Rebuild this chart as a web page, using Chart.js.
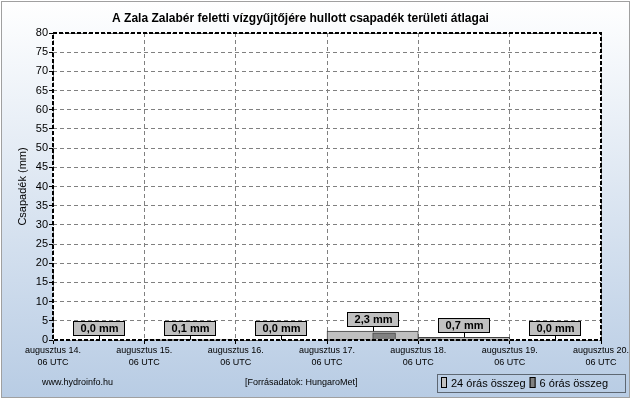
<!DOCTYPE html>
<html>
<head>
<meta charset="utf-8">
<script src="https://cdn.jsdelivr.net/npm/chart.js@4.4.1/dist/chart.umd.min.js"></script>
<style>
  html, body { margin: 0; padding: 0; background: #fff; }
  #wrap { width: 633px; height: 401px; }
</style>
</head>
<body>
<div id="wrap"><canvas id="csapadekChart"></canvas></div>
<script>
// boundary ticks (06 UTC each day)
const tickDays = ['augusztus 14.', 'augusztus 15.', 'augusztus 16.', 'augusztus 17.', 'augusztus 18.', 'augusztus 19.', 'augusztus 20.'];
const dayLabels = ['08.14', '08.15', '08.16', '08.17', '08.18', '08.19'];
const dayTotals = [0.0, 0.1, 0.0, 2.3, 0.7, 0.0];
const slotLabels = ['14/06', '14/12', '14/18', '15/00', '15/06', '15/12', '15/18', '16/00',
                    '16/06', '16/12', '16/18', '17/00', '17/06', '17/12', '17/18', '18/00',
                    '18/06', '18/12', '18/18', '19/00', '19/06', '19/12', '19/18', '20/00'];
const sixHourTotals = [0.0, 0.0, 0.0, 0.0,
                       0.0, 0.1, 0.0, 0.0,
                       0.0, 0.0, 0.0, 0.0,
                       0.1, 0.2, 1.9, 0.1,
                       0.3, 0.2, 0.1, 0.1,
                       0.0, 0.0, 0.0, 0.0];

const FONT = "'Liberation Sans', Arial, sans-serif";

function fmt(v) {
    return v.toFixed(1).replace('.', ',') + ' mm';
}

const frame = {
    id: 'frame',
    beforeDraw(chart) {
        const {ctx, width, height, chartArea: a} = chart;
        ctx.save();
        ctx.fillStyle = '#fff';
        ctx.fillRect(0, 0, width, height);
        const g = ctx.createLinearGradient(0, 0, 0, 398);
        g.addColorStop(0, '#ffffff');
        g.addColorStop(1, '#b8cce4');
        ctx.fillStyle = g;
        ctx.fillRect(1, 1, 629, 397);
        ctx.strokeStyle = '#a0a0a0';
        ctx.lineWidth = 1;
        ctx.strokeRect(1.5, 1.5, 628, 396);
        ctx.fillStyle = '#fff';
        ctx.fillRect(a.left, a.top, a.right - a.left, a.bottom - a.top);
        ctx.restore();
    },
    afterDatasetsDraw(chart) {
        const {ctx, chartArea: a} = chart;
        const xd = chart.scales.xd, y = chart.scales.y;
        ctx.save();
        // plot border
        ctx.strokeStyle = '#000';
        ctx.lineWidth = 2;
        ctx.setLineDash([4, 2]);
        ctx.strokeRect(a.left, a.top, a.right - a.left, a.bottom - a.top);
        ctx.setLineDash([]);
        // value boxes
        ctx.font = 'bold 11px ' + FONT;
        ctx.textAlign = 'center';
        ctx.textBaseline = 'middle';
        dayTotals.forEach((v, i) => {
            const cx = Math.round(xd.getPixelForValue(i));
            const top = y.getPixelForValue(v);
            const bb = Math.round(top - 4);
            ctx.strokeStyle = '#000';
            ctx.lineWidth = 1;
            ctx.beginPath();
            ctx.moveTo(cx + 0.5, bb);
            ctx.lineTo(cx + 0.5, top);
            ctx.stroke();
            ctx.fillStyle = '#c0c0c0';
            ctx.fillRect(cx - 26, bb - 15, 52, 15);
            ctx.strokeRect(cx - 25.5, bb - 14.5, 51, 14);
            ctx.fillStyle = '#000';
            ctx.fillText(fmt(v), cx + 0.5, bb - 7);
        });
        ctx.restore();
    },
    afterDraw(chart) {
        const {ctx} = chart;
        ctx.save();
        ctx.fillStyle = '#000';
        ctx.textBaseline = 'middle';
        ctx.textAlign = 'left';
        ctx.font = '9px ' + FONT;
        ctx.fillText('www.hydroinfo.hu', 42, 383);
        ctx.fillText('[Forrásadatok: HungaroMet]', 245, 383);
        // legend
        ctx.strokeStyle = '#000';
        ctx.lineWidth = 1;
        ctx.setLineDash([1, 1]);
        ctx.strokeRect(437.5, 374.5, 188, 18);
        ctx.setLineDash([]);
        ctx.font = '11px ' + FONT;
        let x = 441;
        [['24 órás összeg', '#c0c0c0'], ['6 órás összeg', '#808080']].forEach(([t, c]) => {
            ctx.fillStyle = c;
            ctx.fillRect(x, 377, 6, 11);
            ctx.strokeRect(x + 0.5, 377.5, 5, 10);
            ctx.fillStyle = '#000';
            ctx.fillText(t, x + 10, 383.5);
            x += 10 + ctx.measureText(t).width + 4;
        });
        ctx.restore();
    }
};

new Chart(document.getElementById('csapadekChart'), {
    type: 'bar',
    data: {
        datasets: [{
            label: '6 órás összeg',
            data: sixHourTotals,
            xAxisID: 'xs',
            backgroundColor: '#808080',
            borderColor: '#404040',
            borderWidth: 1,
            grouped: false,
            categoryPercentage: 1,
            barPercentage: 1
        }, {
            label: '24 órás összeg',
            data: dayTotals,
            xAxisID: 'xd',
            backgroundColor: '#c0c0c0',
            borderColor: '#404040',
            borderWidth: 1,
            grouped: false,
            categoryPercentage: 1,
            barPercentage: 1
        }]
    },
    options: {
        responsive: true,
        maintainAspectRatio: false,
        animation: false,
        layout: { padding: { left: 0, right: 32, top: 0, bottom: 0 } },
        plugins: {
            legend: { display: false },
            tooltip: { enabled: false },
            title: {
                display: true,
                text: 'A Zala Zalabér feletti vízgyűjtőjére hullott csapadék területi átlagai',
                color: '#000',
                font: { family: FONT, size: 12, weight: 'bold' },
                padding: { top: 11, bottom: 7.6 }
            }
        },
        scales: {
            x: {
                type: 'linear',
                min: 0,
                max: 6,
                offset: false,
                position: 'bottom',
                afterFit(axis) { axis.height = 61; },
                grid: { offset: false, color: '#808080', tickLength: 4, tickColor: '#000' },
                border: { display: false, dash: [4, 3] },
                ticks: {
                    stepSize: 1,
                    autoSkip: false,
                    maxRotation: 0,
                    padding: 1,
                    color: '#000',
                    font: { family: FONT, size: 9, lineHeight: 1.33 },
                    callback: (v) => [tickDays[v], '06 UTC']
                }
            },
            xd: {
                type: 'category',
                labels: dayLabels,
                display: false,
                offset: true
            },
            xs: {
                type: 'category',
                labels: slotLabels,
                display: false,
                offset: true
            },
            y: {
                min: 0,
                max: 80,
                afterFit(axis) { axis.width = 53; },
                grid: { color: '#808080', tickLength: 4, tickColor: '#000' },
                border: { display: false, dash: [4, 3] },
                ticks: {
                    stepSize: 5,
                    padding: 1,
                    color: '#000',
                    font: { family: FONT, size: 11 }
                },
                title: {
                    display: true,
                    text: 'Csapadék (mm)',
                    color: '#000',
                    font: { family: FONT, size: 11 },
                    padding: { top: 16, bottom: 0 }
                }
            }
        }
    },
    plugins: [frame]
});
</script>
</body>
</html>
